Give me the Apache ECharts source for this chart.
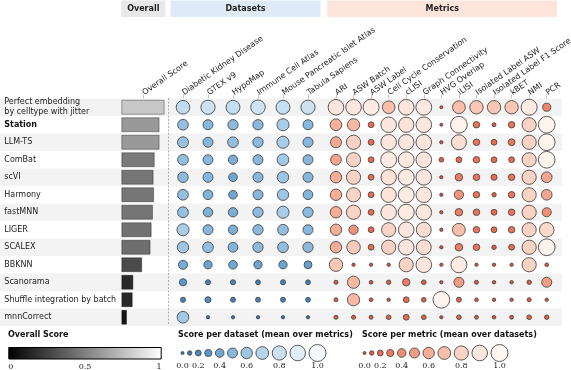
<!DOCTYPE html>
<html><head><meta charset="utf-8">
<script src="https://cdn.jsdelivr.net/npm/echarts@6/dist/echarts.min.js"></script>
<style>html,body{margin:0;padding:0;background:#fff}#c{width:571px;height:370px}</style>
</head><body><div id="c"></div>
<script>
const methods = ['Perfect embedding\nby celltype with jitter','Station','LLM-TS','ComBat','scVI','Harmony','fastMNN','LIGER','SCALEX','BBKNN','Scanorama','Shuffle integration by batch','mnnCorrect'];
const boldMethods = ['Station'];
const overallLabel = ['Overall Score'];
const overallScore = [0.985,0.87,0.87,0.76,0.735,0.745,0.72,0.69,0.665,0.475,0.275,0.26,0.13];
const datasets = ['Diabetic Kidney Disease','GTEX v9','HypoMap','Immune Cell Atlas','Mouse Pancreatic Islet Atlas','Tabula Sapiens'];
const datasetScores = [
  [0.76,0.80,0.78,0.82,0.78,0.80],
  [0.55,0.50,0.52,0.52,0.65,0.50],
  [0.57,0.50,0.55,0.52,0.65,0.50],
  [0.55,0.50,0.45,0.50,0.62,0.50],
  [0.53,0.50,0.40,0.50,0.60,0.50],
  [0.55,0.48,0.40,0.50,0.60,0.48],
  [0.56,0.46,0.45,0.52,0.65,0.52],
  [0.65,0.50,0.45,0.52,0.55,0.50],
  [0.60,0.55,0.48,0.52,0.55,0.52],
  [0.43,0.38,0.40,0.38,0.38,0.35],
  [0.30,0.15,0.15,0.13,0.15,0.13],
  [0.15,0.22,0.14,0.14,0.14,0.13],
  [0.62,0.02,0.02,0.02,0.02,0.02]
];
const metrics = ['ARI','ASW Batch','ASW Label','Cell Cycle Conservation','cLISI','Graph Connectivity','HVG Overlap','iLISI','Isolated Label ASW','Isolated Label F1 Score','kBET','NMI','PCR'];
const metricScores = [
  [0.90,0.90,0.93,0.69,0.90,0.92,0.00,0.70,0.74,0.74,0.74,0.93,0.36],
  [0.62,0.66,0.20,0.90,0.88,0.90,0.00,0.98,0.25,0.07,0.25,0.80,0.98],
  [0.57,0.80,0.20,0.90,0.90,0.90,0.02,0.86,0.25,0.20,0.27,0.80,0.98],
  [0.55,0.80,0.20,0.93,0.92,0.90,0.12,0.20,0.25,0.20,0.20,0.80,0.98],
  [0.60,0.80,0.20,0.88,0.93,0.90,0.02,0.32,0.25,0.22,0.25,0.80,0.55],
  [0.60,0.80,0.20,0.88,0.93,0.90,0.02,0.45,0.25,0.10,0.25,0.80,0.55],
  [0.60,0.80,0.20,0.90,0.93,0.90,0.02,0.32,0.25,0.20,0.25,0.80,0.43],
  [0.60,0.45,0.20,0.80,0.90,0.85,0.02,0.70,0.25,0.20,0.25,0.80,0.83],
  [0.60,0.75,0.20,0.80,0.90,0.85,0.02,0.32,0.25,0.10,0.20,0.80,0.98],
  [0.74,0.02,0.02,0.03,0.80,0.90,0.02,0.93,0.02,0.02,0.02,0.80,0.05],
  [0.07,0.66,0.05,0.10,0.31,0.12,0.02,0.50,0.07,0.03,0.03,0.10,0.50],
  [0.07,0.66,0.05,0.03,0.20,0.12,0.98,0.14,0.05,0.03,0.03,0.08,0.03],
  [0.08,0.08,0.07,0.12,0.20,0.12,0.02,0.12,0.06,0.04,0.06,0.12,0.10]
];
const groupTitles = ['Overall','Datasets','Metrics'];
const legendTitles = ['Overall Score','Score per dataset (mean over metrics)','Score per metric (mean over datasets)'];
const overallLegendTicks = [0,0.5,1];
const sizeLegendValues = [0,0.1,0.2,0.3,0.4,0.5,0.6,0.7,0.8,0.9,1.0];
const sizeLegendLabels = ['0.0','0.2','0.4','0.6','0.8','1.0'];

// styles
const FONT = 'DejaVu Sans';
const SERIF = 'DejaVu Serif';
const grayStops = ['#000000','#131313','#262626','#393939','#4f4f4f','#6a6a6a','#777777','#9a9a9a','#cdcdcd'];
const blueStops = ['#2e6da8','#3b7db8','#4a8bc3','#5a99cc','#6ea8d4','#86b7dc','#9dc6e4','#b4d4eb','#cbe1f2','#e1eef8','#f5f9fd'];
const redStops  = ['#e34a33','#e75a3f','#ec6a4d','#ef7a5e','#f28b70','#f49c83','#f7ad96','#f9bfab','#fbd3c4','#fde6dd','#fff6f2'];
const SMIN = 3, SMAX = 17;
const sizeOf = v => SMIN + (SMAX - SMIN) * v;

const TOP = 98.5, H = 227.5;

const dsData = [], mtData = [];
datasetScores.forEach((r,i)=>r.forEach((v,j)=>dsData.push([j,i,v])));
metricScores.forEach((r,i)=>r.forEach((v,j)=>mtData.push([j,i,v])));
const barData = overallScore.map((v,i)=>[v,i]);

function legendPositions(x0, gap){
  const xs=[x0];
  for(let i=1;i<sizeLegendValues.length;i++){
    xs.push(xs[i-1] + sizeOf(sizeLegendValues[i-1])/2 + sizeOf(sizeLegendValues[i])/2 + gap);
  }
  return xs;
}
const legX = legendPositions(4.5, 3.5);
const legData = sizeLegendValues.map((v,i)=>[legX[i],0,v]);
const legLabelPos = sizeLegendLabels.map(l=>legX[sizeLegendValues.indexOf(parseFloat(l))]);
function legFormatter(val){
  let best=0,bd=1e9;
  legLabelPos.forEach((p,i)=>{const d=Math.abs(p-val); if(d<bd){bd=d;best=i;}});
  return sizeLegendLabels[best];
}

const headerAxis = (grid, data) => ({
  gridIndex:grid, type:'category', position:'top', data:data,
  axisLine:{show:false},
  axisTick:{show:true, alignWithLabel:true, length:4, lineStyle:{color:'#c8c8c8'}},
  axisLabel:{rotate:-35, margin:5, fontSize:8, fontFamily:FONT, color:'#222', interval:0},
  splitLine:{show:false}
});
const rowAxis = (grid, extra) => Object.assign({
  gridIndex:grid, type:'category', inverse:true, data:methods,
  axisLine:{show:false}, axisTick:{show:false}, axisLabel:{show:false}, splitLine:{show:false}
}, extra||{});
const G = (o) => Object.assign({outerBoundsMode:'none', containLabel:false}, o);

const chart = echarts.init(document.getElementById('c'), null, {renderer:'canvas'});
const option = {
  animation:false,
  backgroundColor:'#fff',
  grid:[
    G({left:0, top:TOP, width:562, height:H}),
    G({left:121.3, top:TOP, width:44, height:H}),
    G({left:170.5, top:TOP, width:150, height:H}),
    G({left:327.2, top:TOP, width:228.3, height:H}),
    G({left:8.3, top:347, width:153.4, height:12.5}),
    G({left:178, top:347, width:160, height:12}),
    G({left:360, top:347, width:160, height:12})
  ],
  xAxis:[
    {gridIndex:0, type:'value', show:false, min:0, max:1},
    {gridIndex:1, type:'value', show:false, min:0, max:1},
    headerAxis(1, overallLabel),
    headerAxis(2, datasets),
    headerAxis(3, metrics),
    {gridIndex:4, type:'value', min:0, max:1, interval:0.5,
      axisLine:{show:false}, axisTick:{show:false}, splitLine:{show:false},
      axisLabel:{margin:3, fontSize:8, fontFamily:SERIF, color:'#222', alignMinLabel:'left', alignMaxLabel:'right'}},
    {gridIndex:5, type:'value', min:0, max:160,
      axisLine:{show:false}, axisTick:{show:false}, splitLine:{show:false},
      axisLabel:{customValues:legLabelPos, formatter:legFormatter, margin:3, fontSize:8, fontFamily:SERIF, color:'#222'}},
    {gridIndex:6, type:'value', min:0, max:160,
      axisLine:{show:false}, axisTick:{show:false}, splitLine:{show:false},
      axisLabel:{customValues:legLabelPos, formatter:legFormatter, margin:3, fontSize:8, fontFamily:SERIF, color:'#222'}}
  ],
  yAxis:[
    rowAxis(0, {splitArea:{show:true, areaStyle:{color:['#f3f3f3','#ffffff']}}}),
    rowAxis(1, {axisLabel:{show:true, align:'left', margin:117, interval:0,
      formatter:(v)=> boldMethods.includes(v) ? '{b|'+v+'}' : '{n|'+v+'}',
      rich:{n:{fontSize:8, fontFamily:FONT, color:'#222', lineHeight:10},
            b:{fontSize:8, fontFamily:FONT, color:'#111', fontWeight:'bold', lineHeight:10}}}}),
    rowAxis(2, {offset:2.5, axisLine:{show:true, lineStyle:{type:[1,2.5], color:'#a8a8a8', width:1}}}),
    rowAxis(3),
    {gridIndex:4, type:'category', data:['s'], show:false},
    {gridIndex:5, type:'value', min:-1, max:1, show:false},
    {gridIndex:6, type:'value', min:-1, max:1, show:false}
  ],
  visualMap:[
    {type:'continuous', show:false, seriesIndex:[0], dimension:0, min:0, max:1, inRange:{color:grayStops}},
    {type:'continuous', show:false, seriesIndex:[1,4], dimension:2, min:0, max:1, inRange:{color:blueStops, symbolSize:[SMIN,SMAX]}},
    {type:'continuous', show:false, seriesIndex:[2,5], dimension:2, min:0, max:1, inRange:{color:redStops, symbolSize:[SMIN,SMAX]}}
  ],
  series:[
    {type:'bar', xAxisIndex:1, yAxisIndex:1, data:barData, barWidth:15, encode:{x:0,y:1},
      itemStyle:{borderColor:'rgba(0,0,0,0.35)', borderWidth:1}},
    {type:'scatter', xAxisIndex:3, yAxisIndex:2, data:dsData, encode:{x:0,y:1},
      itemStyle:{borderColor:'#4a4a4a', borderWidth:0.9, opacity:1}},
    {type:'scatter', xAxisIndex:4, yAxisIndex:3, data:mtData, encode:{x:0,y:1},
      itemStyle:{borderColor:'#4a4a4a', borderWidth:0.9, opacity:1}},
    {type:'bar', xAxisIndex:5, yAxisIndex:4, data:[1], barWidth:'100%',
      itemStyle:{borderColor:'#000', borderWidth:1,
        color:new echarts.graphic.LinearGradient(0,0,1,0,[{offset:0,color:'#000'},{offset:1,color:'#fff'}])}},
    {type:'scatter', xAxisIndex:6, yAxisIndex:5, data:legData, encode:{x:0,y:1},
      itemStyle:{borderColor:'#4a4a4a', borderWidth:0.9, opacity:1}},
    {type:'scatter', xAxisIndex:7, yAxisIndex:6, data:legData, encode:{x:0,y:1},
      itemStyle:{borderColor:'#4a4a4a', borderWidth:0.9, opacity:1}}
  ],
  graphic:[
    {type:'rect', shape:{x:121.3,y:0.5,width:44,height:16.5}, style:{fill:'#e8e8e8'}},
    {type:'rect', shape:{x:170.5,y:0.5,width:150,height:16.5}, style:{fill:'#deebf7'}},
    {type:'rect', shape:{x:327.2,y:0.5,width:230,height:16.5}, style:{fill:'#fde5dc'}},
    {type:'text', x:143.3, y:9, style:{text:groupTitles[0], font:'bold 8px "DejaVu Sans"', fill:'#222', align:'center', verticalAlign:'middle'}},
    {type:'text', x:245.5, y:9, style:{text:groupTitles[1], font:'bold 8px "DejaVu Sans"', fill:'#222', align:'center', verticalAlign:'middle'}},
    {type:'text', x:442.3, y:9, style:{text:groupTitles[2], font:'bold 8px "DejaVu Sans"', fill:'#222', align:'center', verticalAlign:'middle'}},
    {type:'text', x:8, y:334.5, style:{text:legendTitles[0], font:'bold 8px "DejaVu Sans"', fill:'#111', align:'left', verticalAlign:'middle'}},
    {type:'text', x:178, y:334.5, style:{text:legendTitles[1], font:'bold 8px "DejaVu Sans"', fill:'#111', align:'left', verticalAlign:'middle'}},
    {type:'text', x:362, y:334.5, style:{text:legendTitles[2], font:'bold 8px "DejaVu Sans"', fill:'#111', align:'left', verticalAlign:'middle'}}
  ]
};
chart.setOption(option);
</script></body></html>
